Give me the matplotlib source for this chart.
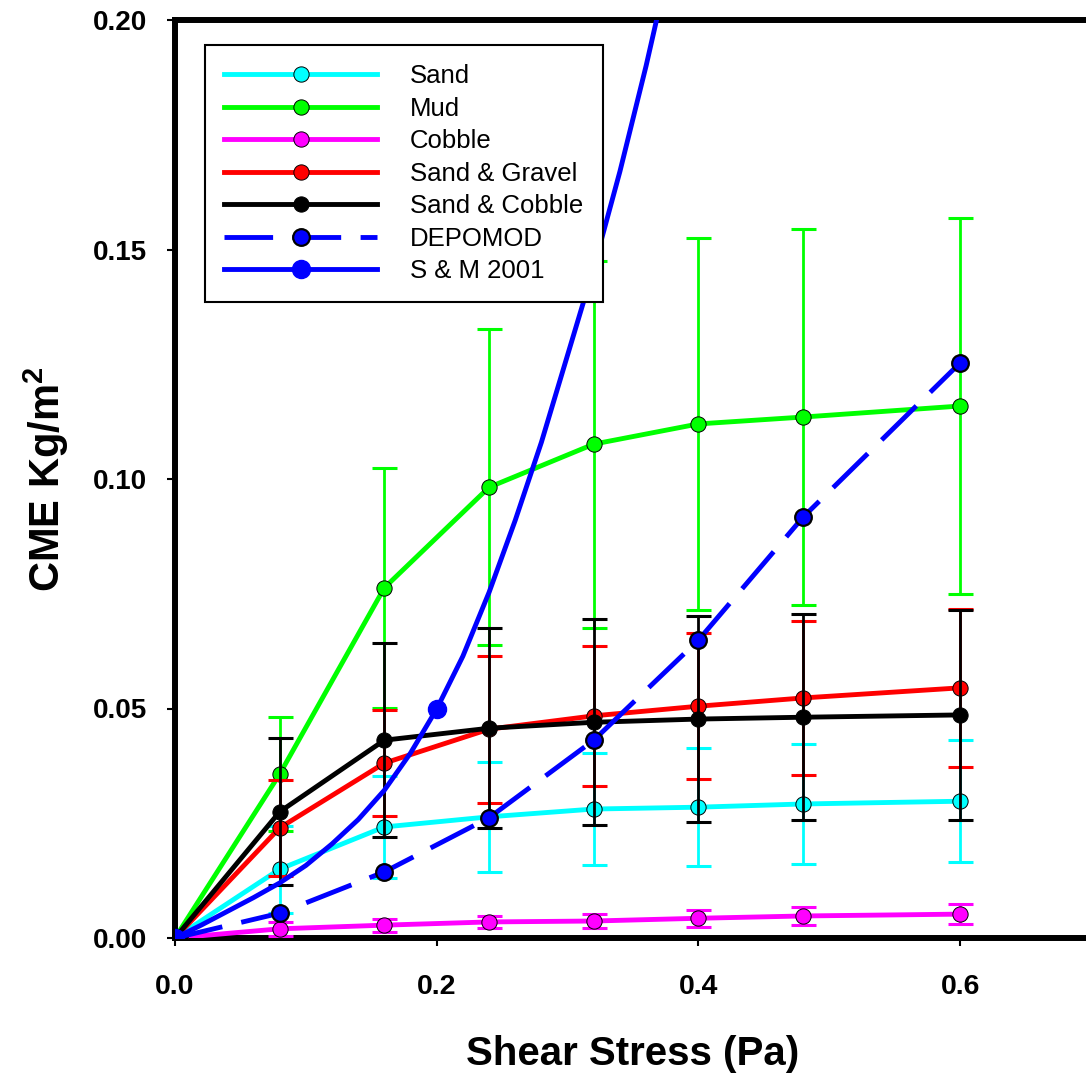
import matplotlib
matplotlib.use("Agg")
import matplotlib.pyplot as plt
from matplotlib.ticker import FormatStrFormatter

plt.rcParams['font.family'] = ['Liberation Sans', 'DejaVu Sans']
plt.rcParams['mathtext.fontset'] = 'custom'
plt.rcParams['mathtext.rm'] = 'Liberation Sans:bold'
plt.rcParams['mathtext.default'] = 'regular'

# shear stress steps (Pa)
stress = [0.0, 0.08, 0.16, 0.24, 0.32, 0.40, 0.48, 0.60]

# cumulative mass eroded (kg/m2) and standard deviations per sediment type
sand = [0.0, 0.0150, 0.0242, 0.0264, 0.0281, 0.0285, 0.0292, 0.0298]
sand_sd = [0.0, 0.0095, 0.0112, 0.0120, 0.0123, 0.0128, 0.0131, 0.0133]
mud = [0.0, 0.0357, 0.0763, 0.0982, 0.1076, 0.1120, 0.1135, 0.1159]
mud_sd = [0.0, 0.0124, 0.0262, 0.0344, 0.0400, 0.0405, 0.0410, 0.0410]
cobble = [0.0, 0.0020, 0.0028, 0.0035, 0.0037, 0.0043, 0.0048, 0.0052]
cobble_sd = [0.0, 0.0015, 0.0014, 0.0013, 0.0015, 0.0018, 0.0020, 0.0022]
sand_gravel = [0.0, 0.0240, 0.0381, 0.0455, 0.0484, 0.0505, 0.0523, 0.0545]
sand_gravel_sd = [0.0, 0.0105, 0.0115, 0.0160, 0.0153, 0.0159, 0.0168, 0.0172]
sand_cobble = [0.0, 0.0275, 0.0431, 0.0457, 0.0470, 0.0477, 0.0481, 0.0486]
sand_cobble_sd = [0.0, 0.0160, 0.0212, 0.0218, 0.0224, 0.0224, 0.0224, 0.0228]

# DEPOMOD model prediction
depomod = [0.0, 0.0054, 0.0144, 0.0262, 0.0431, 0.0649, 0.0917, 0.1253]

# S & M 2001 curve
sm_stress = [0.00, 0.02, 0.04, 0.06, 0.08, 0.10, 0.12, 0.14, 0.16, 0.18,
             0.20, 0.22, 0.24, 0.26, 0.28, 0.30, 0.32, 0.34, 0.36, 0.38]
sm_cme = [0.0, 0.0028, 0.0058, 0.0088, 0.0120, 0.0158, 0.0205, 0.0258,
          0.0322, 0.0403, 0.0499, 0.0614, 0.0753, 0.0910, 0.1080, 0.1270,
          0.1460, 0.1670, 0.1900, 0.2150]
sm_marked = [0, 10]

series = [
    ("Sand", sand, sand_sd, "#00FFFF"),
    ("Mud", mud, mud_sd, "#00FF00"),
    ("Cobble", cobble, cobble_sd, "#FF00FF"),
    ("Sand & Gravel", sand_gravel, sand_gravel_sd, "#FF0000"),
    ("Sand & Cobble", sand_cobble, sand_cobble_sd, "#000000"),
]

fig = plt.figure(figsize=(10.86, 10.74), dpi=100)
ax = fig.add_axes([175 / 1086, 136 / 1074, 916 / 1086, 918 / 1074])

handles = []
z = 2
for name, vals, sd, col in series:
    ax.errorbar(stress, vals, yerr=sd, fmt='none', ecolor=col, elinewidth=2.0,
                capsize=9, capthick=2.2, zorder=z)
    ln, = ax.plot(stress, vals, '-o', color=col, lw=3.5, ms=11,
                  mfc=col, mec='black', mew=0.7, zorder=z + 0.5, label=name)
    handles.append(ln)
    z += 1

ln, = ax.plot(stress, depomod, '--o', color='#0000FF', lw=3.5, ms=12,
              mfc='#0000FF', mec='black', mew=1.6, dashes=(10, 4),
              zorder=z, label="DEPOMOD")
handles.append(ln)
z += 1
ln, = ax.plot(sm_stress, sm_cme, '-o', color='#0000FF', lw=3.5, ms=13,
              mfc='#0000FF', mec='#0000FF', markevery=sm_marked,
              zorder=z, label="S & M 2001")
handles.append(ln)

ax.set_xlim(0, 0.7)
ax.set_ylim(0, 0.2)
ax.set_xticks([0.0, 0.2, 0.4, 0.6])
ax.set_yticks([0.0, 0.05, 0.10, 0.15, 0.20])
ax.xaxis.set_major_formatter(FormatStrFormatter('%.1f'))
ax.yaxis.set_major_formatter(FormatStrFormatter('%.2f'))

for sp in ax.spines.values():
    sp.set_linewidth(4.3)
ax.tick_params(direction='out', length=6, width=1.5)
ax.tick_params(axis='x', pad=20, labelsize=20.5)
ax.tick_params(axis='y', pad=14, labelsize=20)
for lab in ax.get_xticklabels() + ax.get_yticklabels():
    lab.set_fontweight('bold')

ax.set_xlabel("Shear Stress (Pa)", fontsize=29, fontweight='bold')
ax.set_ylabel("CME Kg/m$^2$", fontsize=30, fontweight='bold')
ax.xaxis.set_label_coords(0.5, -0.106)
ax.yaxis.set_label_coords(-0.114, 0.5)

leg = ax.legend(handles=handles, loc='upper left',
                bbox_to_anchor=(205 / 1086, 1 - 45 / 1074),
                bbox_transform=fig.transFigure, borderaxespad=0,
                fontsize=18.5, frameon=True, fancybox=False, framealpha=1,
                edgecolor='black', handlelength=5.95, handletextpad=1.28,
                labelspacing=0.33, borderpad=0.75, numpoints=1)
leg.get_frame().set_linewidth(1.5)
leg.set_zorder(20)

fig.savefig("out.png", dpi=100)
